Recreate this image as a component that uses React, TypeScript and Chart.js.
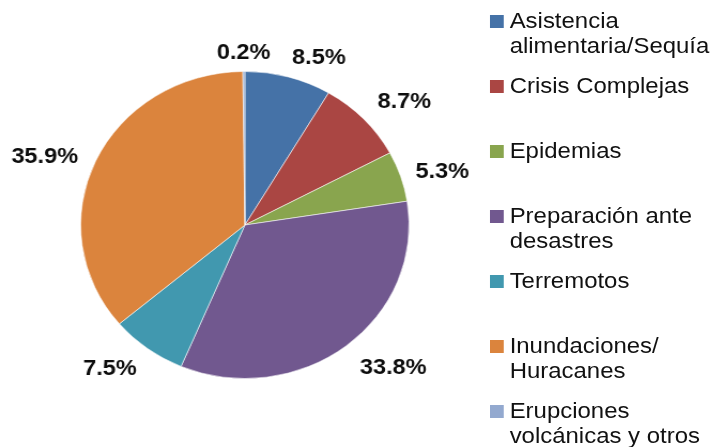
import React, { useEffect, useRef } from 'react';
import { Chart, registerables } from 'chart.js';

Chart.register(...registerables);

const categories = [
  'Asistencia alimentaria/Sequía',
  'Crisis Complejas',
  'Epidemias',
  'Preparación ante desastres',
  'Terremotos',
  'Inundaciones/ Huracanes',
  'Erupciones volcánicas y otros',
];
const legendLines = [
  ['Asistencia', 'alimentaria/Sequía'],
  ['Crisis Complejas'],
  ['Epidemias'],
  ['Preparación ante', 'desastres'],
  ['Terremotos'],
  ['Inundaciones/', 'Huracanes'],
  ['Erupciones', 'volcánicas y otros'],
];
const values = [8.5, 8.7, 5.3, 33.8, 7.5, 35.9, 0.2];
const colors = ['#4572A7', '#AA4643', '#89A54E', '#71588F', '#4198AF', '#DB843D', '#93A9CF'];
// small per-label placement nudges (px), like the manual label placement of the original
const labelNudgeX = [17.8, 8.4, 0, 15, -10.8, -4.7, 0];
const labelNudgeY = [5, 0, 3, 2, 0, 6, 6.5];

const FONT = '"Liberation Sans", Arial, sans-serif';
const W = 676;
const H = 447;
const SX = 723 / W;

const labelPlugin = {
  id: 'outsideLabels',
  afterDatasetsDraw(chart: any) {
    const ctx = chart.ctx;
    const meta = chart.getDatasetMeta(0);
    ctx.save();
    ctx.font = `bold 22px ${FONT}`;
    ctx.fillStyle = '#0d0d0d';
    ctx.textAlign = 'center';
    ctx.textBaseline = 'middle';
    meta.data.forEach((arc: any, i: number) => {
      const p = arc.getProps(['x', 'y', 'startAngle', 'endAngle', 'outerRadius'], true);
      const mid = (p.startAngle + p.endAngle) / 2;
      const txt = values[i].toFixed(1) + '%';
      const hw = ctx.measureText(txt).width / 2;
      const hh = 9;
      const gap = 16;
      const cx = p.x + (p.outerRadius + gap + hw) * Math.cos(mid) + labelNudgeX[i];
      const cy = p.y + (p.outerRadius + gap + hh) * Math.sin(mid) + labelNudgeY[i];
      ctx.fillText(txt, cx, cy);
    });
    ctx.restore();
  },
};

export default function App() {
  const ref = useRef<HTMLCanvasElement>(null);
  useEffect(() => {
    if (!ref.current) return;
    const chart = new Chart(ref.current, {
      type: 'pie',
      data: {
        labels: categories,
        datasets: [
          {
            data: values,
            backgroundColor: colors,
            borderColor: 'rgba(255,255,255,0.55)',
            borderWidth: 1,
          },
        ],
      },
      options: {
        animation: false,
        responsive: true,
        maintainAspectRatio: false,
        events: [],
        layout: { padding: { top: 71, bottom: 68, left: 75, right: 293 } },
        plugins: {
          legend: { display: false },
          tooltip: { enabled: false },
        },
      },
      plugins: [labelPlugin],
    });
    return () => chart.destroy();
  }, []);

  const T0 = 12.5;
  const STEP = 65;
  return (
    <div style={{ position: 'fixed', left: 0, top: 0, width: 723, height: 447, overflow: 'hidden', background: '#fff' }}>
      <div
        style={{
          position: 'absolute',
          left: 0,
          top: 0,
          width: W,
          height: H,
          transform: `scaleX(${SX})`,
          transformOrigin: '0 0',
        }}
      >
        <div style={{ position: 'absolute', left: 0, top: 0, width: W, height: H }}>
          <canvas ref={ref} />
        </div>
        {legendLines.map((lines, i) => {
          const capTop = T0 + STEP * i;
          return (
            <React.Fragment key={i}>
              <div
                style={{
                  position: 'absolute',
                  left: 458,
                  top: capTop + 2.5,
                  width: 13,
                  height: 13,
                  background: colors[i],
                }}
              />
              <div
                style={{
                  position: 'absolute',
                  left: 476.5,
                  top: capTop - 4.4,
                  font: `22.4px ${FONT}`,
                  lineHeight: '25px',
                  color: '#111',
                  whiteSpace: 'nowrap',
                }}
              >
                {lines.map((l, j) => (
                  <div key={j}>{l}</div>
                ))}
              </div>
            </React.Fragment>
          );
        })}
      </div>
    </div>
  );
}
